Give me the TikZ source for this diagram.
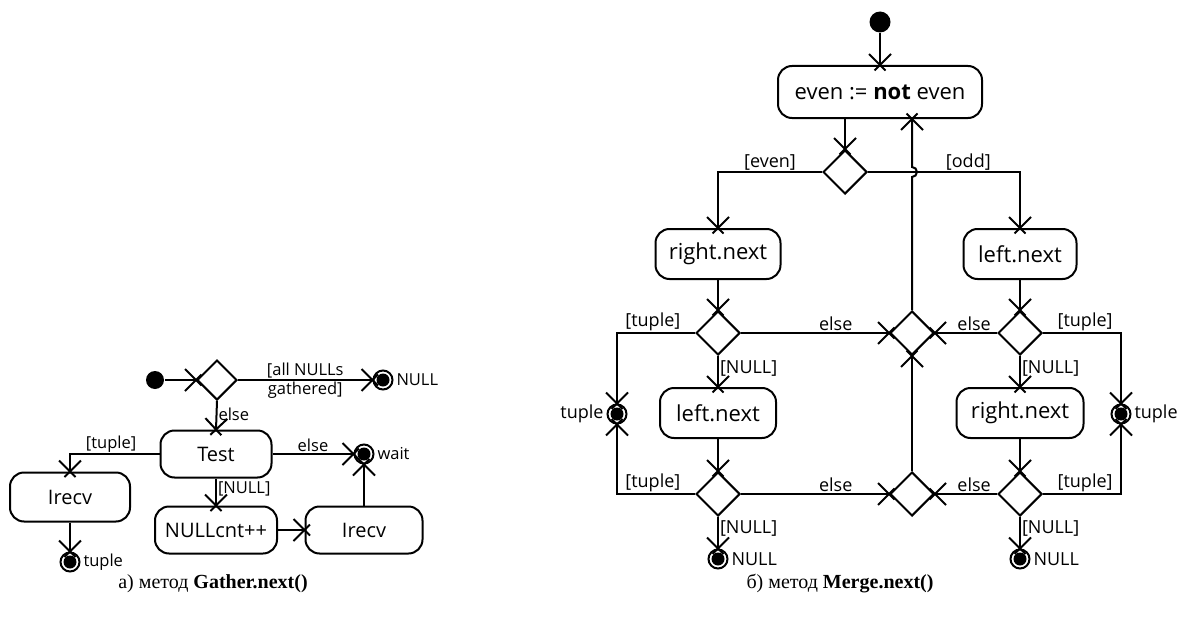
\documentclass[tikz,border=0pt]{standalone}
\usepackage{fontspec}
\setmainfont{Open Sans}
\newfontfamily\capfont{Liberation Serif}
\usetikzlibrary{shapes.geometric,positioning}
\pgfarrowsdeclare{xtip}{xtip}{\pgfarrowsleftextend{-11pt}\pgfarrowsrightextend{0pt}}{
  \pgfsetdash{}{0pt}
  \pgfpathmoveto{\pgfqpoint{-11pt}{11pt}}\pgfpathlineto{\pgfqpoint{5.5pt}{-5.5pt}}
  \pgfpathmoveto{\pgfqpoint{-11pt}{-11pt}}\pgfpathlineto{\pgfqpoint{5.5pt}{5.5pt}}
  \pgfusepathqstroke
}
\tikzset{myaction/.style={
  shape=rectangle,
  rounded corners=14pt,
  draw=black,
  minimum height=50pt,
  inner sep=2pt,
  font=\fontsize{22}{24}\selectfont,
  }
}
\tikzset{myactionS/.style={
  myaction,
  minimum height=47pt,
  font=\fontsize{20}{22}\selectfont,
  }
}
\tikzset{mydecision/.style={
  shape=diamond,
  draw=black,
  minimum width=44pt,
  minimum height=44pt,
  inner sep=0pt,
  }
}
\tikzset{myinit/.style={
  shape=circle,
  fill=black,
  minimum size=21pt,
  inner sep=0pt,
  }
}
\tikzset{myfinal/.style={
  shape=circle,
  draw=black,
  fill=white,
  minimum size=19pt,
  inner sep=0pt,
  path picture={\fill[black] (path picture bounding box.center) circle (6.5pt);},
  }
}
\tikzset{myguard/.style={font=\fontsize{18}{20}\selectfont, inner sep=1pt}}
\tikzset{myguardS/.style={font=\fontsize{16.5}{18}\selectfont, inner sep=1pt}}
\tikzset{myflow/.style={-xtip}}
\tikzset{mycaption/.style={font=\capfont\fontsize{20}{22}\selectfont}}

\begin{document}
\begin{tikzpicture}[x=1pt, y=-1pt, line width=2pt]
  \useasboundingbox (0,0) rectangle (1189,618);

  % Gather.next()
  \node[myinit, minimum size=18pt] (gs) at (155,380) {};
  \node[mydecision, minimum width=40pt, minimum height=40pt] (gd) at (217,380) {};
  \node[myfinal, label={[myguardS, label distance=1pt]right:NULL}] (gnull) at (383,380) {};
  \node[myactionS, minimum width=111pt] (gtest) at (216,454) {Test};
  \node[myactionS, minimum width=120pt, minimum height=49pt] (grecv1) at (70,497) {Irecv};
  \node[myfinal, label={[myguardS, label distance=1pt]right:tuple}] (gtuple) at (70,562) {};
  \node[myfinal, label={[myguardS, label distance=1pt]right:wait}] (gwait) at (364,454) {};
  \node[myactionS, minimum width=122pt] (gcnt) at (216,530) {NULLcnt++};
  \node[myactionS, minimum width=117pt] (grecv2) at (364,530) {Irecv};

  \draw[myflow] (gs) -- (gd.west);
  \draw[myflow] (gd.east) -- node[myguardS, above]{[all NULLs} node[myguardS, below]{gathered]} (gnull);
  \draw[myflow] (gd.south) -- node[myguardS, right, pos=0.45]{else} (gtest.north);
  \draw[myflow] (gtest.west) -| node[myguardS, above, pos=0.27]{[tuple]} (grecv1.north);
  \draw[myflow] (grecv1.south) -- (gtuple);
  \draw[myflow] (gtest.east) -- node[myguardS, above]{else} (gwait);
  \draw[myflow] (gtest.south) -- node[myguardS, right, pos=0.4]{[NULL]} (gcnt.north);
  \draw[myflow] (gcnt.east) -- (grecv2.west);
  \draw[myflow] (grecv2.north) -- (gwait);

  \node[mycaption] (gcap) at (213,584) {а) метод \textbf{Gather.next()}};

  % Merge.next()
  \node[myinit] (ms) at (880,22) {};
  \node[myaction, minimum width=204pt, minimum height=52pt] (meven) at (880,92) {even := \textbf{not} even};
  \node[mydecision] (md1) at (845,172) {};
  \node[myaction, minimum width=125pt] (mrn1) at (718,254) {right.next};
  \node[myaction, minimum width=113pt] (mln1) at (1020,254) {left.next};
  \node[mydecision] (md2) at (718,333) {};
  \node[mydecision] (mm1) at (912,333) {};
  \node[mydecision] (md3) at (1020,333) {};
  \node[myfinal, label={[myguard, label distance=1pt]left:tuple}] (mtl) at (617,414) {};
  \node[myfinal, label={[myguard, label distance=1pt]right:tuple}] (mtr) at (1121,414) {};
  \node[myaction, minimum width=116pt] (mln2) at (718,413) {left.next};
  \node[myaction, minimum width=127pt] (mrn2) at (1020,413) {right.next};
  \node[mydecision] (md4) at (718,494) {};
  \node[mydecision] (mm2) at (912,494) {};
  \node[mydecision] (md5) at (1020,494) {};
  \node[myfinal, label={[myguard, label distance=1pt]right:NULL}] (mnl) at (718,559) {};
  \node[myfinal, label={[myguard, label distance=1pt]right:NULL}] (mnr) at (1020,559) {};
  \coordinate (mjump) at (mm1.north |- md1.east);

  \draw[myflow] (ms) -- (meven);
  \draw[myflow] (md1.north |- meven.south) -- (md1.north);
  \draw[myflow] (md1.west) -| node[myguard, above, pos=0.25]{[even]} (mrn1.north);
  \draw[myflow] (md1.east) -| node[myguard, above, pos=0.33]{[odd]} (mln1.north);
  \draw[myflow] (mrn1.south) -- (md2.north);
  \draw[myflow] (mln1.south) -- (md3.north);
  \draw[myflow] (md2.west) -| node[myguard, above, pos=0.27]{[tuple]} (mtl.north);
  \draw[myflow] (md3.east) -| node[myguard, above, pos=0.27]{[tuple]} (mtr.north);
  \draw[myflow] (md2.east) -- node[myguard, above, pos=0.64]{else} (mm1.west);
  \draw[myflow] (md3.west) -- node[myguard, above, pos=0.37]{else} (mm1.east);
  \draw[myflow] (md2.south) -- node[myguard, right, pos=0.4]{[NULL]} (mln2.north);
  \draw[myflow] (md3.south) -- node[myguard, right, pos=0.4]{[NULL]} (mrn2.north);
  \draw[myflow] (mln2.south) -- (md4.north);
  \draw[myflow] (mrn2.south) -- (md5.north);
  \draw[myflow] (md4.west) -| node[myguard, above, pos=0.27]{[tuple]} (mtl.south);
  \draw[myflow] (md5.east) -| node[myguard, above, pos=0.27]{[tuple]} (mtr.south);
  \draw[myflow] (md4.east) -- node[myguard, above, pos=0.64]{else} (mm2.west);
  \draw[myflow] (md5.west) -- node[myguard, above, pos=0.37]{else} (mm2.east);
  \draw[myflow] (md4.south) -- node[myguard, right, pos=0.35]{[NULL]} (mnl);
  \draw[myflow] (md5.south) -- node[myguard, right, pos=0.35]{[NULL]} (mnr);
  \draw[myflow] (mm2.north) -- (mm1.south);
  \draw[myflow] (mm1.north) -- ([yshift=-5pt]mjump) arc[start angle=-90, end angle=90, radius=5pt] -- (mm1.north |- meven.south);

  \node[mycaption] (mcap) at (840,584) {б) метод \textbf{Merge.next()}};
\end{tikzpicture}
\end{document}
